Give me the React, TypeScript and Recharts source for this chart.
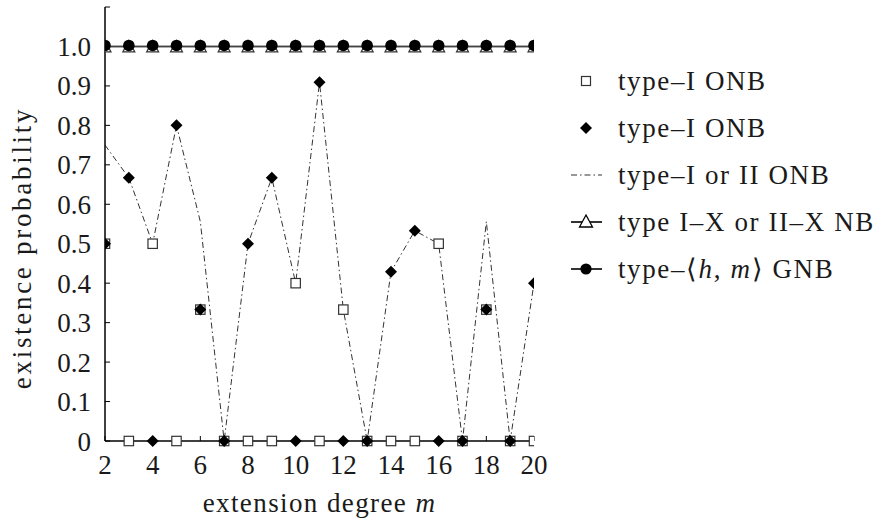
import React from 'react';
import { ComposedChart, Line, XAxis, YAxis, Legend, Label } from 'recharts';

const degrees = [2, 3, 4, 5, 6, 7, 8, 9, 10, 11, 12, 13, 14, 15, 16, 17, 18, 19, 20];
const typeIONB = [0.5, 0, 0.5, 0, 0.333, 0, 0, 0, 0.4, 0, 0.333, 0, 0, 0, 0.5, 0, 0.333, 0, 0];
const typeIIONB = [0.5, 0.667, 0, 0.8, 0.333, 0, 0.5, 0.667, 0, 0.909, 0, 0, 0.429, 0.533, 0, 0, 0.333, 0, 0.4];
const typeIorIIONB = [0.75, 0.667, 0.5, 0.8, 0.556, 0, 0.5, 0.667, 0.4, 0.909, 0.333, 0, 0.429, 0.533, 0.5, 0, 0.556, 0, 0.4];
const typeXNB = [1, 1, 1, 1, 1, 1, 1, 1, 1, 1, 1, 1, 1, 1, 1, 1, 1, 1, 1];
const typeGNB = [1, 1, 1, 1, 1, 1, 1, 1, 1, 1, 1, 1, 1, 1, 1, 1, 1, 1, 1];

const xTicks = [2, 4, 6, 8, 10, 12, 14, 16, 18, 20];
const yTicks = [0, 0.1, 0.2, 0.3, 0.4, 0.5, 0.6, 0.7, 0.8, 0.9, 1.0, 1.1];

const legendOrder = ['typeI', 'typeII', 'union', 'xnb', 'gnb'];
const seriesNames = {
  typeI: 'type–I ONB',
  typeII: 'type–I ONB',
  union: 'type–I or II ONB',
  xnb: 'type I–X or II–X NB',
  gnb: 'type–⟨h, m⟩ GNB',
};

const data = degrees.map((m, i) => ({
  m,
  typeI: typeIONB[i],
  typeII: typeIIONB[i],
  union: typeIorIIONB[i],
  xnb: typeXNB[i],
  gnb: typeGNB[i],
}));

const FONT = 'Liberation Serif';
const TEXT = '#1a1a1a';

const SquareDot = (p: any) => {
  if (p.cx == null || p.cy == null) return <g key={p.index} />;
  return <rect key={p.index} x={p.cx - 4.7} y={p.cy - 4.7} width={9.4} height={9.4} fill="#fff" stroke="#333" strokeWidth={1.2} />;
};
const DiamondDot = (p: any) => {
  if (p.cx == null || p.cy == null) return <g key={p.index} />;
  const s = 6;
  return <polygon key={p.index} points={`${p.cx},${p.cy - s} ${p.cx + s},${p.cy} ${p.cx},${p.cy + s} ${p.cx - s},${p.cy}`} fill="#000" />;
};
const TriangleDot = (p: any) => {
  if (p.cx == null || p.cy == null) return <g key={p.index} />;
  return <polygon key={p.index} points={`${p.cx},${p.cy - 6} ${p.cx + 6},${p.cy + 5.5} ${p.cx - 6},${p.cy + 5.5}`} fill="#fff" stroke="#333" strokeWidth={1.2} />;
};
const CircleDot = (p: any) => {
  if (p.cx == null || p.cy == null) return <g key={p.index} />;
  return <circle key={p.index} cx={p.cx} cy={p.cy - 1} r={5.8} fill="#000" />;
};

const LegendContent = (props: any) => {
  const payload = [...(props.payload || [])].sort(
    (a: any, b: any) => legendOrder.indexOf(a.dataKey) - legendOrder.indexOf(b.dataKey)
  );
  const rowH = 47;
  return (
    <svg width={330} height={240} style={{ display: 'block' }}>
      {payload.map((item: any, i: number) => {
        const y = 21 + i * rowH;
        const mx = 21;
        let icon: any = null;
        if (item.dataKey === 'typeI') {
          icon = <rect x={mx - 4.5} y={y - 4.5} width={9} height={9} fill="#fff" stroke="#333" strokeWidth={1.2} />;
        } else if (item.dataKey === 'typeII') {
          icon = <polygon points={`${mx},${y - 6} ${mx + 6},${y} ${mx},${y + 6} ${mx - 6},${y}`} fill="#000" />;
        } else if (item.dataKey === 'union') {
          icon = <line x1={6} x2={37} y1={y} y2={y} stroke="#333" strokeWidth={1} strokeDasharray="6 3 1.5 3" />;
        } else if (item.dataKey === 'xnb') {
          icon = (
            <g>
              <line x1={6} x2={37} y1={y} y2={y} stroke="#000" strokeWidth={1.6} />
              <polygon points={`${mx},${y - 7} ${mx + 6.5},${y + 5} ${mx - 6.5},${y + 5}`} fill="#fff" stroke="#000" strokeWidth={1.3} />
            </g>
          );
        } else {
          icon = (
            <g>
              <line x1={6} x2={37} y1={y} y2={y} stroke="#000" strokeWidth={1.6} />
              <circle cx={mx} cy={y} r={5.6} fill="#000" />
            </g>
          );
        }
        return (
          <g key={i}>
            {icon}
            <text x={53} y={y + 9} fontFamily={FONT} fontSize={27} fill={TEXT} letterSpacing={1.6}>
              {item.dataKey === 'gnb' ? (
                <>
                  <tspan>type–⟨</tspan>
                  <tspan fontStyle="italic">h</tspan>
                  <tspan>, </tspan>
                  <tspan fontStyle="italic">m</tspan>
                  <tspan>⟩ GNB</tspan>
                </>
              ) : (
                item.value
              )}
            </text>
          </g>
        );
      })}
    </svg>
  );
};

const XLabel = (props: any) => {
  const vb = props.viewBox || {};
  const cx = vb.x + vb.width / 2;
  const y = vb.y + 71;
  return (
    <text x={cx} y={y} textAnchor="middle" fontFamily={FONT} fontSize={27} fill={TEXT} letterSpacing={1.4}>
      <tspan>extension degree </tspan>
      <tspan fontStyle="italic">m</tspan>
    </text>
  );
};

const YLabel = (props: any) => {
  const vb = props.viewBox || {};
  const x = vb.x - 14;
  const y = vb.y + vb.height / 2 + 24;
  return (
    <text x={x} y={y} textAnchor="middle" fontFamily={FONT} fontSize={27} fill={TEXT} letterSpacing={2.7} transform={`rotate(-90, ${x}, ${y})`}>
      existence probability
    </text>
  );
};

export default function App() {
  return (
    <div style={{ position: 'absolute', left: 0, top: 0, width: 887, height: 525, background: '#fff' }}>
      <ComposedChart width={887} height={525} data={data} margin={{ top: 7, right: 353, bottom: 54, left: 45 }}>
        <XAxis
          dataKey="m"
          type="number"
          domain={[2, 20]}
          ticks={xTicks}
          interval={0}
          allowDataOverflow
          height={30}
          axisLine={{ stroke: '#000', strokeWidth: 1.5 }}
          tickLine={{ stroke: '#000', strokeWidth: 1 }}
          tickSize={-5}
          tickMargin={19}
          tick={{ fontFamily: FONT, fontSize: 27, fill: TEXT }}
        >
          <Label content={XLabel} />
        </XAxis>
        <YAxis
          type="number"
          domain={[0, 1.1]}
          ticks={yTicks}
          interval={0}
          width={60}
          axisLine={{ stroke: '#000', strokeWidth: 1.5 }}
          tickLine={{ stroke: '#000', strokeWidth: 1 }}
          tickSize={-5}
          tickMargin={19}
          tickFormatter={(v: number) => (v === 0 ? '0' : v > 1.05 ? '' : v.toFixed(1))}
          tick={{ fontFamily: FONT, fontSize: 27, fill: TEXT }}
        >
          <Label content={YLabel} />
        </YAxis>
        <Legend
          layout="vertical"
          align="center"
          verticalAlign="middle"
          wrapperStyle={{ left: 565, top: 60, width: 330 }}
          content={LegendContent}
        />
        <Line dataKey="typeI" name={seriesNames.typeI} stroke="none" isAnimationActive={false} dot={SquareDot} activeDot={false} />
        <Line dataKey="typeII" name={seriesNames.typeII} stroke="none" isAnimationActive={false} dot={DiamondDot} activeDot={false} />
        <Line dataKey="union" name={seriesNames.union} type="linear" stroke="#333" strokeWidth={1} strokeDasharray="6 3 1.5 3" isAnimationActive={false} dot={false} activeDot={false} />
        <Line dataKey="xnb" name={seriesNames.xnb} type="linear" stroke="#444" strokeWidth={1.6} isAnimationActive={false} dot={TriangleDot} activeDot={false} />
        <Line dataKey="gnb" name={seriesNames.gnb} type="linear" stroke="#444" strokeWidth={1.6} isAnimationActive={false} dot={CircleDot} activeDot={false} />
      </ComposedChart>
    </div>
  );
}
